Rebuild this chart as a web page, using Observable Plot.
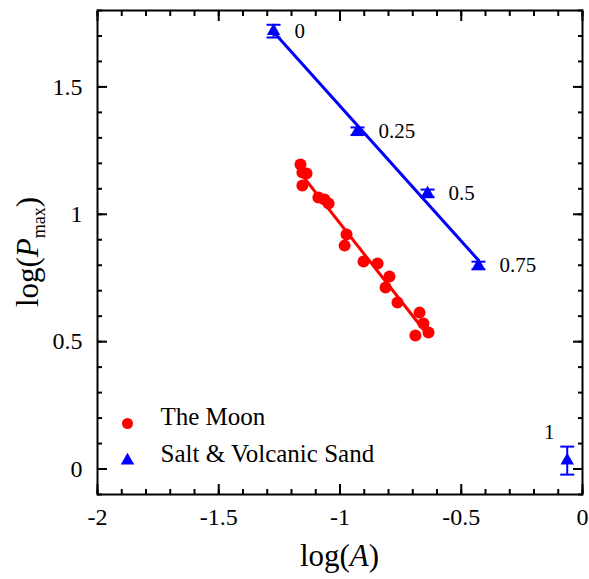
<!DOCTYPE html>
<html>
<head>
<meta charset="utf-8">
<script src="https://cdn.jsdelivr.net/npm/d3@7"></script>
<script src="https://cdn.jsdelivr.net/npm/@observablehq/plot@0.6"></script>
<style>
  html, body { margin: 0; padding: 0; background: #fff; }
  #chart svg { display: block; }
</style>
</head>
<body>
<div id="chart"></div>
<script>
// --- Data ---
const moonLogA = [-1.163, -1.155, -1.138, -1.155, -1.089, -1.064, -1.047, -0.973, -0.981,
                  -0.903, -0.845, -0.796, -0.812, -0.763, -0.672, -0.656, -0.635, -0.689];
const moonLogP = [1.195, 1.164, 1.160, 1.113, 1.066, 1.058, 1.042, 0.921, 0.877,
                  0.815, 0.807, 0.756, 0.713, 0.654, 0.614, 0.571, 0.536, 0.524];

const sandLogA = [-1.274, -0.928, -0.639, -0.429, -0.063];
const sandLogP = [1.719, 1.326, 1.082, 0.799, 0.033];
const sandErr  = [0.025, 0.015, 0.015, 0.015, 0.055];
const sandLabels = ["0", "0.25", "0.5", "0.75", "1"];

const seriesNames = ["The Moon", "Salt & Volcanic Sand"];

const xMajorTicks = [-2, -1.5, -1, -0.5, 0];
const yMajorTicks = [0, 0.5, 1, 1.5];
const xMinorTicks = d3.range(0, 21).map(i => -2 + i / 10);
const yMinorTicks = d3.range(0, 20).map(i => -0.1 + i / 10);

// --- Tables ---
const moon = moonLogA.map((x, i) => ({x, y: moonLogP[i]}));
const sand = sandLogA.map((x, i) => ({x, y: sandLogP[i], e: sandErr[i], label: sandLabels[i]}));
const sandFit = sand.slice(0, 4);

const RED = "#ff0000", BLUE = "#0000ff";
const FONT = "'Liberation Serif', 'Times New Roman', Times, serif";

const capSymbol = {
  draw(context, size) {
    const w = 7;
    context.moveTo(-w, 0);
    context.lineTo(w, 0);
  }
};

const tickStyle = {text: null, label: null, strokeWidth: 2};

const plot = Plot.plot({
  width: 589,
  height: 579,
  marginLeft: 97,
  marginRight: 7,
  marginTop: 10,
  marginBottom: 85,
  style: {fontFamily: FONT, background: "#fff", color: "#000"},
  x: {domain: [-2, 0], label: null},
  y: {domain: [-0.1, 1.8], label: null},
  marks: [
    // ticks (inward, all four sides)
    Plot.axisX(xMinorTicks, {anchor: "bottom", tickSize: -5, ...tickStyle}),
    Plot.axisX(xMajorTicks, {anchor: "bottom", tickSize: -10, ...tickStyle}),
    Plot.axisX(xMinorTicks, {anchor: "top", tickSize: -5, ...tickStyle}),
    Plot.axisX(xMajorTicks, {anchor: "top", tickSize: -10, ...tickStyle}),
    Plot.axisY(yMinorTicks, {anchor: "left", tickSize: -5, ...tickStyle}),
    Plot.axisY(yMajorTicks, {anchor: "left", tickSize: -10, ...tickStyle}),
    Plot.axisY(yMinorTicks, {anchor: "right", tickSize: -5, ...tickStyle}),
    Plot.axisY(yMajorTicks, {anchor: "right", tickSize: -10, ...tickStyle}),
    // tick labels
    Plot.axisX(xMajorTicks, {anchor: "bottom", tickSize: 0, tickPadding: 13, fontSize: 24,
      tickFormat: d => String(d), label: null, fill: "#000"}),
    Plot.axisY(yMajorTicks, {anchor: "left", tickSize: 0, tickPadding: 15, fontSize: 24,
      tickFormat: d => String(d), label: null, fill: "#000"}),
    Plot.frame({stroke: "#000", strokeWidth: 2}),

    // fits
    Plot.linearRegressionY(moon, {x: "x", y: "y", stroke: RED, strokeWidth: 3, ci: 0}),
    Plot.linearRegressionY(sandFit, {x: "x", y: "y", stroke: BLUE, strokeWidth: 3, ci: 0}),

    // error bars
    Plot.ruleX(sand, {x: "x", y1: d => d.y - d.e, y2: d => d.y + d.e, stroke: BLUE, strokeWidth: 2}),
    Plot.dot(sand, {x: "x", y: d => d.y - d.e, symbol: capSymbol, stroke: BLUE, strokeWidth: 2, r: 6}),
    Plot.dot(sand, {x: "x", y: d => d.y + d.e, symbol: capSymbol, stroke: BLUE, strokeWidth: 2, r: 6}),

    // points
    Plot.dot(moon, {x: "x", y: "y", r: 6, fill: RED, stroke: null}),
    Plot.dot(sand, {x: "x", y: "y", symbol: "triangle", r: 5, fill: BLUE, stroke: null}),

    // point labels
    Plot.text(sand.slice(0, 4), {x: "x", y: "y", text: "label", dx: 21, textAnchor: "start",
      fontSize: 21, fill: "#000"}),
    Plot.text(sand.slice(4), {x: "x", y: "y", text: "label", dx: -18, dy: -28, textAnchor: "middle",
      fontSize: 21, fill: "#000"}),

    // legend
    Plot.dot([seriesNames[0]], {frameAnchor: "bottom-left", dx: 30, dy: -71, r: 5.5, fill: RED, stroke: null}),
    Plot.dot([seriesNames[1]], {frameAnchor: "bottom-left", dx: 30, dy: -34, r: 5, symbol: "triangle", fill: BLUE, stroke: null}),
    Plot.text([seriesNames[0]], {frameAnchor: "bottom-left", dx: 63, dy: -70, text: d => d, textAnchor: "start", fontSize: 25, fill: "#000"}),
    Plot.text([seriesNames[1]], {frameAnchor: "bottom-left", dx: 63, dy: -33, text: d => d, textAnchor: "start", fontSize: 25, fill: "#000"})
  ]
});

document.getElementById("chart").appendChild(plot);

// Axis titles with italics / subscript
const svg = d3.select(plot);
const xt = svg.append("text")
  .attr("x", (97 + 582) / 2).attr("y", 566)
  .attr("text-anchor", "middle")
  .attr("font-family", FONT).attr("font-size", 31).attr("fill", "#000");
xt.append("tspan").text("log(");
xt.append("tspan").attr("font-style", "italic").text("A");
xt.append("tspan").text(")");

const yt = svg.append("text")
  .attr("transform", "translate(38,252) rotate(-90)")
  .attr("text-anchor", "middle")
  .attr("font-family", FONT).attr("font-size", 31).attr("fill", "#000");
yt.append("tspan").text("log(");
yt.append("tspan").attr("font-style", "italic").text("P");
yt.append("tspan").attr("font-size", 18).attr("dy", 7).text("max");
yt.append("tspan").attr("dy", -7).text(")");
</script>
</body>
</html>
